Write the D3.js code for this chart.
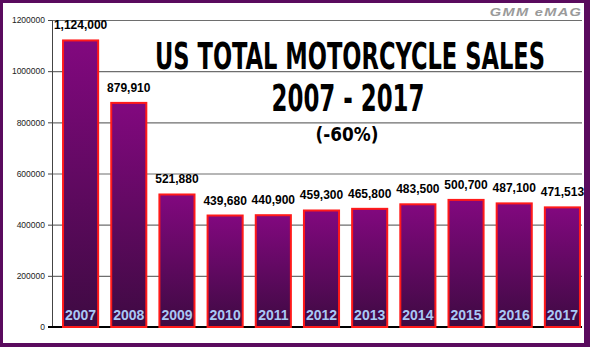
<!DOCTYPE html>
<html>
<head>
<meta charset="utf-8">
<script src="https://cdn.jsdelivr.net/npm/d3@7"></script>
<style>
  html, body { margin: 0; padding: 0; background: #5a0b5e; }
  svg { display: block; }
</style>
</head>
<body>
<script>
// US motorcycle sales by year
const years = ["2007", "2008", "2009", "2010", "2011", "2012", "2013", "2014", "2015", "2016", "2017"];
const sales = [1124000, 879910, 521880, 439680, 440900, 459300, 465800, 483500, 500700, 487100, 471513];
const yTicks = [0, 200000, 400000, 600000, 800000, 1000000, 1200000];
const titleLines = ["US TOTAL MOTORCYCLE SALES", "2007 - 2017"];
const subtitle = "(-60%)";
const brand = "GMM eMAG";

const W = 590, H = 347;
const svg = d3.select("body").append("svg").attr("width", W).attr("height", H);

// frame
svg.append("rect").attr("width", W).attr("height", H).attr("fill", "#5a0b5e");
svg.append("rect").attr("x", 3).attr("y", 3).attr("width", 581).attr("height", 340).attr("fill", "#ffffff");

const defs = svg.append("defs");
const grad = defs.append("linearGradient").attr("id", "barFill")
  .attr("x1", 0).attr("y1", 0).attr("x2", 0).attr("y2", 1);
grad.append("stop").attr("offset", "0%").attr("stop-color", "#82087f");
grad.append("stop").attr("offset", "100%").attr("stop-color", "#3e0a42");

const axisX = 52, plotRight = 582;
const y = d3.scaleLinear().domain([0, 1200000]).range([327, 20]);
const x = d3.scaleBand().domain(years).range([56.5, 586.5]).paddingInner(0.23).paddingOuter(0.115);

// gridlines
const grid = svg.append("g").attr("transform", `translate(${axisX},0)`)
  .call(d3.axisRight(y).tickValues(yTicks.filter(v => v > 0)).tickSize(plotRight - axisX).tickFormat(""));
grid.select(".domain").remove();
grid.selectAll("line").attr("stroke", "#6e6e6e").attr("stroke-width", 1.2);

// y axis
const yAxis = svg.append("g").attr("transform", `translate(${axisX},0)`)
  .call(d3.axisLeft(y).tickValues(yTicks).tickSize(4).tickPadding(3).tickFormat(d3.format("d")));
yAxis.select(".domain").attr("stroke", "#444").attr("stroke-width", 1);
yAxis.selectAll("line").attr("stroke", "#444");
yAxis.selectAll("text")
  .attr("font-family", "Liberation Sans, Arial, sans-serif")
  .attr("font-size", 8.5).attr("fill", "#222");

// baseline
svg.append("line").attr("x1", axisX - 4).attr("x2", plotRight)
  .attr("y1", y(0)).attr("y2", y(0)).attr("stroke", "#000").attr("stroke-width", 2);

// condensed text: set at natural width, then squeezed horizontally to the wanted width
function squeezedText(parent, str, cx, baseline, size, width) {
  const g = parent.append("g");
  const t = g.append("text").attr("x", 0).attr("y", 0).attr("font-size", size).text(str);
  const natural = t.node().getComputedTextLength();
  g.attr("transform", `translate(${cx},${baseline}) scale(${width / natural},1)`);
  return t;
}

// title block
const title = svg.append("g").attr("font-family", "Liberation Sans Narrow, DejaVu Sans Condensed, Arial Narrow, sans-serif")
  .attr("font-weight", "bold").attr("fill", "#000").attr("text-anchor", "middle");
squeezedText(title, titleLines[0], 350, 69, 37, 390);
squeezedText(title, titleLines[1], 348, 111, 37, 153);
squeezedText(title, subtitle, 347, 141, 19, 63);

// brand mark
const brandG = svg.append("g").attr("font-family", "Liberation Sans, Arial, sans-serif")
  .attr("font-style", "italic").attr("font-weight", "bold").attr("fill", "#9a9a9a").attr("text-anchor", "middle");
squeezedText(brandG, brand, 536, 16, 11, 82).attr("letter-spacing", 1);

// bars
const data = years.map((yr, i) => ({ year: yr, value: sales[i] }));
const bars = svg.append("g").selectAll("g").data(data).join("g");
bars.append("rect")
  .attr("x", d => x(d.year) + 1)
  .attr("y", d => y(d.value) + 1)
  .attr("width", x.bandwidth() - 2)
  .attr("height", d => y(0) - y(d.value) - 1)
  .attr("fill", "url(#barFill)")
  .attr("stroke", "#ff1a1a").attr("stroke-width", 2);

// value labels
bars.append("text")
  .attr("x", d => x(d.year) + x.bandwidth() / 2)
  .attr("y", d => y(d.value) - 10)
  .attr("text-anchor", "middle")
  .attr("font-family", "Liberation Sans, Arial, sans-serif").attr("font-weight", "bold")
  .attr("font-size", 12).attr("fill", "#000")
  .text(d => d3.format(",")(d.value));

// year labels inside bars
bars.append("text")
  .attr("x", d => x(d.year) + x.bandwidth() / 2)
  .attr("y", 320)
  .attr("text-anchor", "middle")
  .attr("font-family", "Liberation Sans, Arial, sans-serif").attr("font-weight", "bold")
  .attr("font-size", 14).attr("fill", "#a9c8f5")
  .text(d => d.year);
</script>
</body>
</html>
